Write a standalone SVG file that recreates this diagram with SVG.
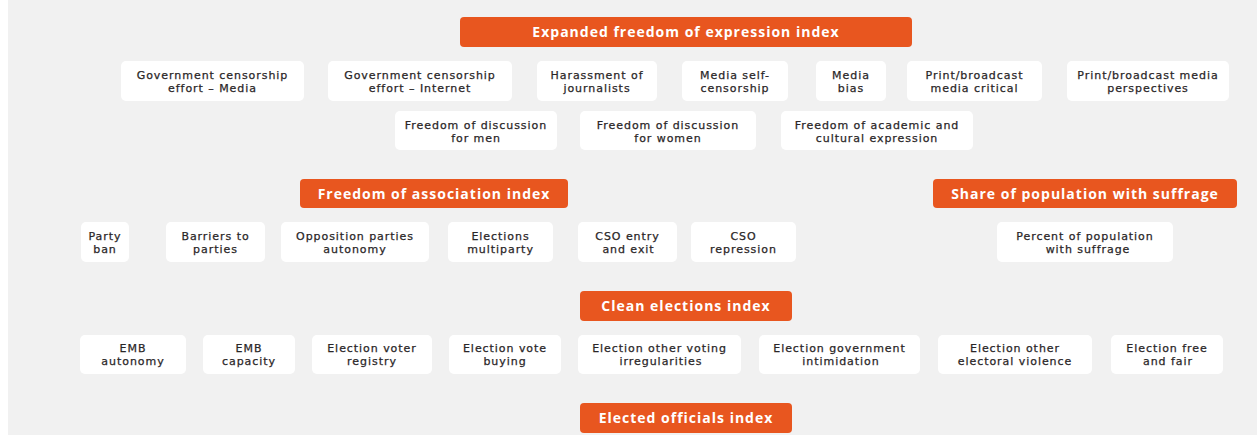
<svg xmlns="http://www.w3.org/2000/svg" width="1257" height="435" viewBox="0 0 1257 435">
<style>
.bg{fill:#f1f1f1}
.box{fill:#ffffff}
.ob{fill:#e8561f}
.t{font-family:"DejaVu Sans","Liberation Sans",sans-serif;font-size:11px;letter-spacing:0.95px;fill:#2a2627;stroke:#2a2627;stroke-width:0.25px;text-anchor:middle}
.h{font-family:"Open Sans","Liberation Sans",sans-serif;font-size:14px;font-weight:700;letter-spacing:1px;fill:#ffffff;text-anchor:middle}
</style>
<rect x="0" y="0" width="1257" height="435" fill="#ffffff"/>
<rect class="bg" x="8" y="0" width="1249" height="435"/>
<g id="connectors"/>

<g id="n-expression"><rect class="ob" x="460" y="17" width="452" height="30" rx="4"/><text class="h" x="686" y="37">Expanded freedom of expression index</text></g>

<g id="n-gcm"><rect class="box" x="121" y="61" width="183" height="40" rx="5"/><text class="t" y="78.9"><tspan x="212.5">Government censorship</tspan><tspan x="212.5" dy="12.9">effort – Media</tspan></text></g>
<g id="n-gci"><rect class="box" x="328" y="61" width="184" height="40" rx="5"/><text class="t" y="78.9"><tspan x="420">Government censorship</tspan><tspan x="420" dy="12.9">effort – Internet</tspan></text></g>
<g id="n-haj"><rect class="box" x="537" y="61" width="120" height="40" rx="5"/><text class="t" y="78.9"><tspan x="597">Harassment of</tspan><tspan x="597" dy="12.9">journalists</tspan></text></g>
<g id="n-msc"><rect class="box" x="682" y="61" width="106" height="40" rx="5"/><text class="t" y="78.9"><tspan x="735">Media self-</tspan><tspan x="735" dy="12.9">censorship</tspan></text></g>
<g id="n-mb"><rect class="box" x="816" y="61" width="70" height="40" rx="5"/><text class="t" y="78.9"><tspan x="851">Media</tspan><tspan x="851" dy="12.9">bias</tspan></text></g>
<g id="n-pbc"><rect class="box" x="907" y="61" width="135" height="40" rx="5"/><text class="t" y="78.9"><tspan x="974.5">Print/broadcast</tspan><tspan x="974.5" dy="12.9">media critical</tspan></text></g>
<g id="n-pbp"><rect class="box" x="1067" y="61" width="162" height="40" rx="5"/><text class="t" y="78.9"><tspan x="1148">Print/broadcast media</tspan><tspan x="1148" dy="12.9">perspectives</tspan></text></g>

<g id="n-fdm"><rect class="box" x="395" y="111" width="162" height="39" rx="5"/><text class="t" y="128.6"><tspan x="476">Freedom of discussion</tspan><tspan x="476" dy="12.9">for men</tspan></text></g>
<g id="n-fdw"><rect class="box" x="580" y="111" width="176" height="39" rx="5"/><text class="t" y="128.6"><tspan x="668">Freedom of discussion</tspan><tspan x="668" dy="12.9">for women</tspan></text></g>
<g id="n-fac"><rect class="box" x="781" y="111" width="192" height="39" rx="5"/><text class="t" y="128.6"><tspan x="877">Freedom of academic and</tspan><tspan x="877" dy="12.9">cultural expression</tspan></text></g>

<g id="n-association"><rect class="ob" x="300" y="179" width="268" height="29" rx="4"/><text class="h" x="434" y="198.5">Freedom of association index</text></g>
<g id="n-suffrage"><rect class="ob" x="933" y="179" width="304" height="29" rx="4"/><text class="h" x="1085" y="198.5">Share of population with suffrage</text></g>

<g id="n-pb"><rect class="box" x="81" y="222" width="48" height="40" rx="5"/><text class="t" y="240"><tspan x="105">Party</tspan><tspan x="105" dy="12.9">ban</tspan></text></g>
<g id="n-btp"><rect class="box" x="166" y="222" width="99" height="40" rx="5"/><text class="t" y="240"><tspan x="215.5">Barriers to</tspan><tspan x="215.5" dy="12.9">parties</tspan></text></g>
<g id="n-opa"><rect class="box" x="281" y="222" width="148" height="40" rx="5"/><text class="t" y="240"><tspan x="355">Opposition parties</tspan><tspan x="355" dy="12.9">autonomy</tspan></text></g>
<g id="n-em"><rect class="box" x="448" y="222" width="105" height="40" rx="5"/><text class="t" y="240"><tspan x="500.5">Elections</tspan><tspan x="500.5" dy="12.9">multiparty</tspan></text></g>
<g id="n-cee"><rect class="box" x="578" y="222" width="99" height="40" rx="5"/><text class="t" y="240"><tspan x="627.5">CSO entry</tspan><tspan x="628.5" dy="12.9">and exit</tspan></text></g>
<g id="n-csr"><rect class="box" x="691" y="222" width="105" height="40" rx="5"/><text class="t" y="240"><tspan x="743.5">CSO</tspan><tspan x="743.5" dy="12.9">repression</tspan></text></g>
<g id="n-pps"><rect class="box" x="997" y="222" width="176" height="40" rx="5"/><text class="t" y="240"><tspan x="1085">Percent of population</tspan><tspan x="1088" dy="12.9">with suffrage</tspan></text></g>

<g id="n-clean"><rect class="ob" x="580" y="291" width="212" height="30" rx="4"/><text class="h" x="686" y="311">Clean elections index</text></g>

<g id="n-emba"><rect class="box" x="80" y="335" width="106" height="39" rx="5"/><text class="t" y="352.4"><tspan x="133">EMB</tspan><tspan x="133" dy="12.9">autonomy</tspan></text></g>
<g id="n-embc"><rect class="box" x="203" y="335" width="92" height="39" rx="5"/><text class="t" y="352.4"><tspan x="249">EMB</tspan><tspan x="249" dy="12.9">capacity</tspan></text></g>
<g id="n-evr"><rect class="box" x="312" y="335" width="120" height="39" rx="5"/><text class="t" y="352.4"><tspan x="372">Election voter</tspan><tspan x="372" dy="12.9">registry</tspan></text></g>
<g id="n-evb"><rect class="box" x="449" y="335" width="112" height="39" rx="5"/><text class="t" y="352.4"><tspan x="505">Election vote</tspan><tspan x="505" dy="12.9">buying</tspan></text></g>
<g id="n-eovi"><rect class="box" x="578" y="335" width="163" height="39" rx="5"/><text class="t" y="352.4"><tspan x="659.5">Election other voting</tspan><tspan x="661" dy="12.9">irregularities</tspan></text></g>
<g id="n-egi"><rect class="box" x="759" y="335" width="161" height="39" rx="5"/><text class="t" y="352.4"><tspan x="839.5">Election government</tspan><tspan x="841" dy="12.9">intimidation</tspan></text></g>
<g id="n-eoev"><rect class="box" x="938" y="335" width="154" height="39" rx="5"/><text class="t" y="352.4"><tspan x="1015">Election other</tspan><tspan x="1015" dy="12.9">electoral violence</tspan></text></g>
<g id="n-eff"><rect class="box" x="1111" y="335" width="112" height="39" rx="5"/><text class="t" y="352.4"><tspan x="1167">Election free</tspan><tspan x="1168" dy="12.9">and fair</tspan></text></g>

<g id="n-elected"><rect class="ob" x="580" y="403" width="212" height="30" rx="4"/><text class="h" x="686" y="423">Elected officials index</text></g>
</svg>
